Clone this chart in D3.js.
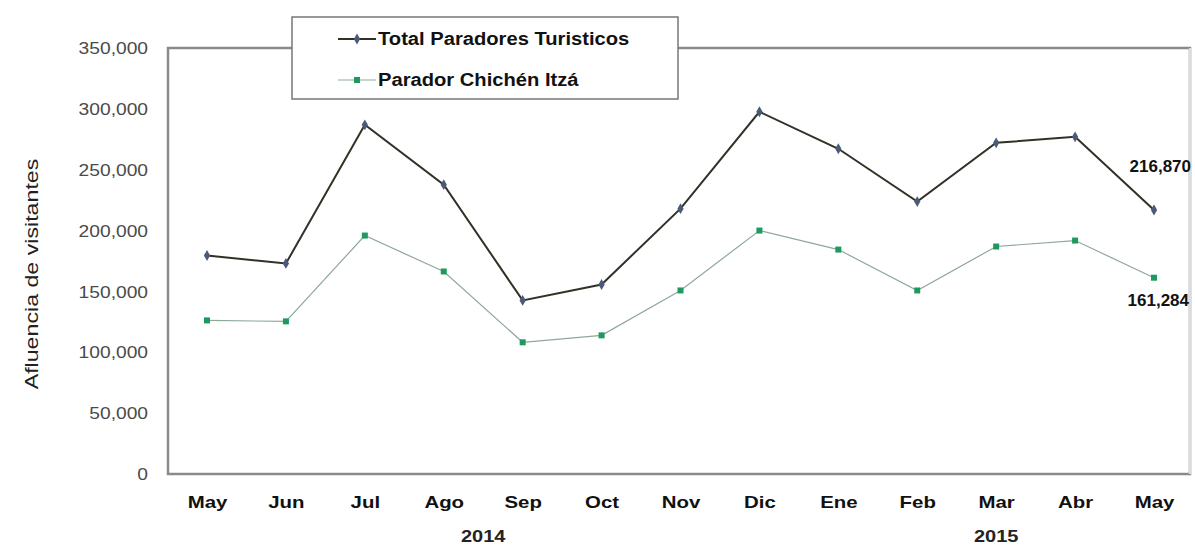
<!DOCTYPE html>
<html>
<head>
<meta charset="utf-8">
<script src="https://cdn.jsdelivr.net/npm/d3@7"></script>
<style>
  body { margin: 0; background: #fff; }
  svg text { font-family: "Liberation Sans", Arial, sans-serif; }
</style>
</head>
<body>
<svg id="chart" width="1195" height="547"></svg>
<script>
// Chart data
var months = ["May", "Jun", "Jul", "Ago", "Sep", "Oct", "Nov", "Dic", "Ene", "Feb", "Mar", "Abr", "May"];
var totalParadores = [179500, 173000, 286900, 237700, 142600, 155700, 218000, 297600, 267200, 223800, 272100, 277000, 216870];
var paradorChichen = [126200, 125400, 195900, 166400, 108200, 113900, 150800, 200000, 184400, 150800, 186900, 191800, 161284];
var yTicks = [0, 50000, 100000, 150000, 200000, 250000, 300000, 350000];
var years = [{ label: "2014", at: 3.5 }, { label: "2015", at: 10 }];
var seriesNames = ["Total Paradores Turisticos", "Parador Chichén Itzá"];

var svg = d3.select("#chart");

// Plot frame (avoid "top" - it's a window global)
var plotLeft = 168, plotRight = 1190, plotTop = 48, plotBottom = 474;

var x = d3.scalePoint()
    .domain(d3.range(months.length))
    .range([207, 1154]);

var y = d3.scaleLinear()
    .domain([0, 350000])
    .range([plotBottom, plotTop]);

var fmt = d3.format(",");

// the source picture looks stretched sideways, widen the text a bit
function stretch(sel, factor) {
    sel.each(function () {
        var w = this.getComputedTextLength();
        d3.select(this).attr("textLength", w * factor).attr("lengthAdjust", "spacingAndGlyphs");
    });
}

// Frame border
svg.append("rect")
    .attr("x", plotLeft).attr("y", plotTop)
    .attr("width", plotRight - plotLeft).attr("height", plotBottom - plotTop)
    .style("fill", "none")
    .style("stroke", "#8a8a8a")
    .style("stroke-width", 2.5);
svg.append("line")
    .attr("x1", plotRight).attr("x2", plotRight).attr("y1", plotTop).attr("y2", plotBottom)
    .style("stroke", "#dcdcdc").style("stroke-width", 2.5);

// Y axis labels
var yAxis = d3.axisLeft(y).tickValues(yTicks).tickFormat(fmt).tickSize(0).tickPadding(0);
var yg = svg.append("g")
    .attr("transform", "translate(" + (plotLeft - 20) + ",0)")
    .call(yAxis);
yg.select(".domain").remove();
yg.selectAll("text")
    .style("font-size", "16px")
    .style("font-family", "'Liberation Sans', Arial, sans-serif")
    .style("fill", "#4a4a4a")
    .attr("dy", "0.35em")
    .call(stretch, 1.2);

// Y axis title
svg.append("text")
    .attr("transform", "translate(38,274) rotate(-90)")
    .style("text-anchor", "middle")
    .style("font-size", "19px")
    .style("fill", "#222")
    .text("Afluencia de visitantes")
    .call(stretch, 1.22);

// X axis month labels
var xAxis = d3.axisBottom(x).tickFormat(function (i) { return months[i]; }).tickSize(0).tickPadding(0);
var xg = svg.append("g")
    .attr("transform", "translate(0,508)")
    .call(xAxis);
xg.select(".domain").remove();
xg.selectAll("text")
    .attr("dy", 0)
    .style("font-size", "17px")
    .style("font-family", "'Liberation Sans', Arial, sans-serif")
    .style("font-weight", "bold")
    .style("fill", "#111")
    .call(stretch, 1.2);

// Year labels
svg.selectAll("text.year")
    .data(years)
    .enter()
    .append("text")
    .attr("class", "year")
    .attr("x", function (d) { return x(Math.floor(d.at)) + (d.at % 1) * x.step(); })
    .attr("y", 542)
    .style("text-anchor", "middle")
    .style("font-size", "16px")
    .style("font-weight", "bold")
    .style("fill", "#222")
    .text(function (d) { return d.label; })
    .call(stretch, 1.25);

var line = d3.line()
    .x(function (d, i) { return x(i); })
    .y(function (d) { return y(d); });

// Parador Chichén Itzá series
svg.append("path")
    .datum(paradorChichen)
    .attr("d", line)
    .style("fill", "none")
    .style("stroke", "#8fa89a")
    .style("stroke-width", 1.2);

svg.selectAll("rect.chichen")
    .data(paradorChichen)
    .enter()
    .append("rect")
    .attr("class", "chichen")
    .attr("x", function (d, i) { return x(i) - 3; })
    .attr("y", function (d) { return y(d) - 3; })
    .attr("width", 6).attr("height", 6)
    .style("fill", "#1f9a5e");

// Total Paradores series
svg.append("path")
    .datum(totalParadores)
    .attr("d", line)
    .style("fill", "none")
    .style("stroke", "#2e3326")
    .style("stroke-width", 2);

var diamond = d3.symbol().type(d3.symbolDiamond).size(34);
svg.selectAll("path.total")
    .data(totalParadores)
    .enter()
    .append("path")
    .attr("class", "total")
    .attr("d", diamond)
    .attr("transform", function (d, i) { return "translate(" + x(i) + "," + y(d) + ")"; })
    .style("fill", "#4a5a78");

// Last value labels
var last = months.length - 1;
svg.append("text")
    .attr("x", 1191).attr("y", y(totalParadores[last]) - 38)
    .style("text-anchor", "end")
    .style("font-size", "17px")
    .style("font-weight", "bold")
    .style("fill", "#111")
    .text(fmt(totalParadores[last]));
svg.append("text")
    .attr("x", 1189).attr("y", y(paradorChichen[last]) + 28)
    .style("text-anchor", "end")
    .style("font-size", "17px")
    .style("font-weight", "bold")
    .style("fill", "#111")
    .text(fmt(paradorChichen[last]));

// Legend
var lg = svg.append("g").attr("transform", "translate(292,17)");
lg.append("rect")
    .attr("width", 386).attr("height", 82)
    .style("fill", "#fff")
    .style("stroke", "#777")
    .style("stroke-width", 1.5);

var legendItems = [
    { name: seriesNames[0], stroke: "#2e3326", width: 2, marker: "diamond", color: "#4a5a78", yy: 22 },
    { name: seriesNames[1], stroke: "#8fa89a", width: 1.2, marker: "square", color: "#1f9a5e", yy: 63 }
];
legendItems.forEach(function (it) {
    lg.append("line")
        .attr("x1", 46).attr("x2", 84).attr("y1", it.yy).attr("y2", it.yy)
        .style("stroke", it.stroke).style("stroke-width", it.width);
    if (it.marker == "diamond") {
        lg.append("path").attr("d", diamond)
            .attr("transform", "translate(65," + it.yy + ")")
            .style("fill", it.color);
    } else {
        lg.append("rect")
            .attr("x", 62).attr("y", it.yy - 3).attr("width", 6).attr("height", 6)
            .style("fill", it.color);
    }
    lg.append("text")
        .attr("x", 86).attr("y", it.yy)
        .attr("dy", "0.36em")
        .style("font-size", "18px")
        .style("font-weight", "bold")
        .style("fill", "#111")
        .text(it.name)
        .call(stretch, 1.12);
});
</script>
</body>
</html>
